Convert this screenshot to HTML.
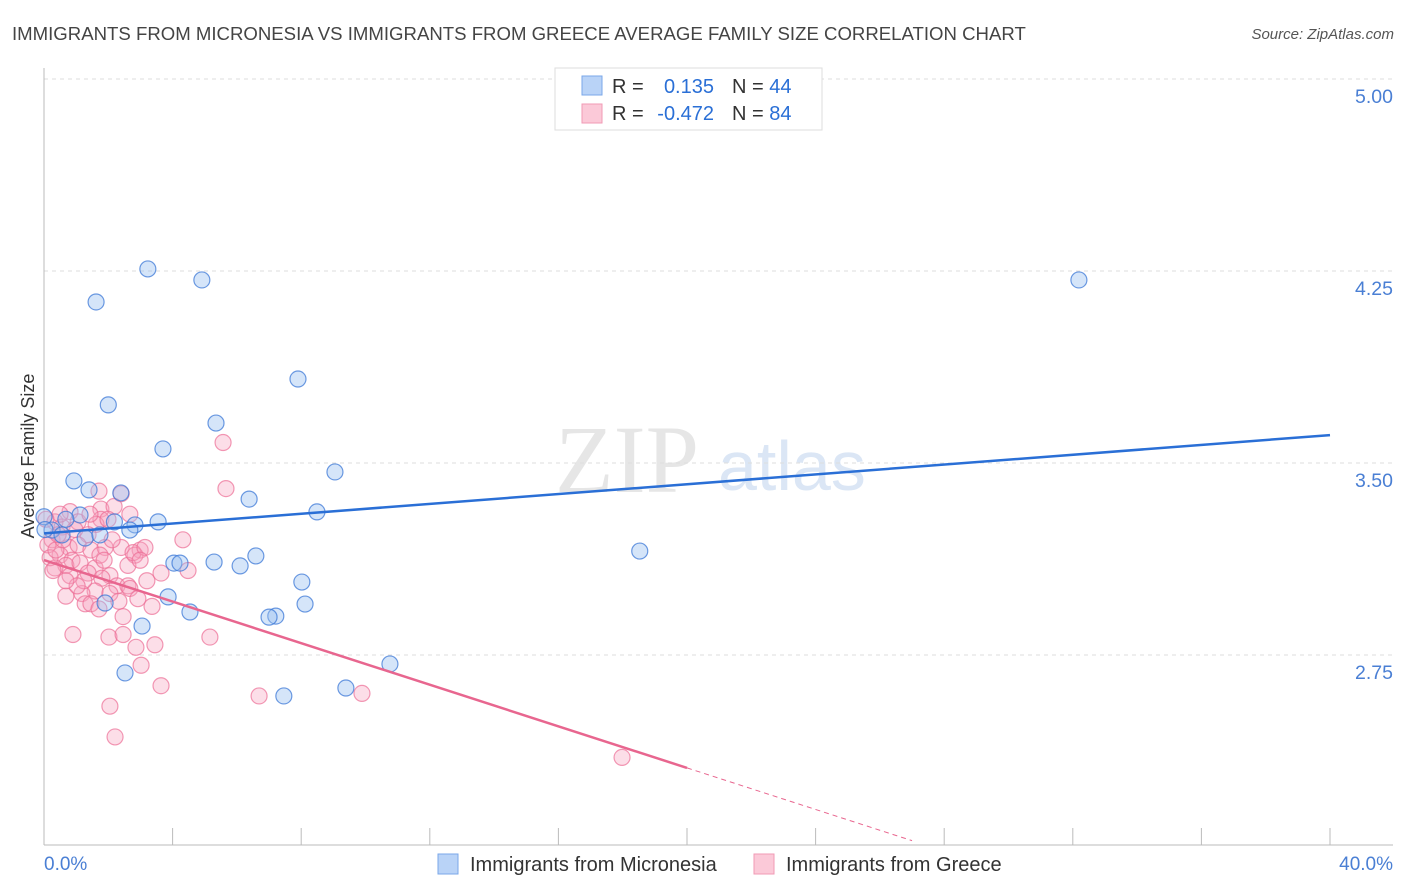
<!DOCTYPE html>
<html><head><meta charset="utf-8"><style>
body{margin:0;background:#fff;font-family:"Liberation Sans",sans-serif;}
svg{display:block}
</style></head><body>
<svg id="chart" width="1406" height="892">
<text x="12" y="40" font-size="18.6" fill="#444">IMMIGRANTS FROM MICRONESIA VS IMMIGRANTS FROM GREECE AVERAGE FAMILY SIZE CORRELATION CHART</text>
<text x="1394" y="39" font-size="15" fill="#555" font-style="italic" text-anchor="end">Source: ZipAtlas.com</text>
<text x="555" y="492" font-size="96" fill="#e6e6e6" font-family="Liberation Serif,serif">ZIP</text>
<text x="718" y="490" font-size="70" fill="#dbe6f5">atlas</text>
<g id="grid"></g><g id="axes"></g><g id="pts"></g><g id="lines"></g>
<text transform="translate(34,456) rotate(-90)" font-size="18" fill="#333" text-anchor="middle">Average Family Size</text>
<text x="44" y="870" font-size="19" fill="#4a7fd4">0.0%</text>
<text x="1393" y="870" font-size="19" fill="#4a7fd4" text-anchor="end">40.0%</text>
<g>
<rect x="555" y="68" width="267" height="62" fill="#fff" stroke="#ddd"/>
<rect x="582" y="76" width="20" height="19" fill="#b9d3f7" stroke="#7aa7e8"/>
<rect x="582" y="104" width="20" height="19" fill="#fbc9d8" stroke="#f09ab5"/>
<text x="612" y="93" font-size="20" fill="#333">R =</text>
<text x="714" y="93" font-size="20" fill="#2a6fd6" text-anchor="end">0.135</text>
<text x="732" y="93" font-size="20" fill="#333">N = <tspan fill="#2a6fd6">44</tspan></text>
<text x="612" y="120" font-size="20" fill="#333">R =</text>
<text x="714" y="120" font-size="20" fill="#2a6fd6" text-anchor="end">-0.472</text>
<text x="732" y="120" font-size="20" fill="#333">N = <tspan fill="#2a6fd6">84</tspan></text>
</g>
<g>
<rect x="438" y="854" width="20" height="20" fill="#b9d3f7" stroke="#7aa7e8"/>
<text x="470" y="871" font-size="20" fill="#333">Immigrants from Micronesia</text>
<rect x="754" y="854" width="20" height="20" fill="#fbc9d8" stroke="#f09ab5"/>
<text x="786" y="871" font-size="20" fill="#333">Immigrants from Greece</text>
</g>
</svg>
<script>
const yTicks=[5.00,4.25,3.50,2.75];
const xTicks=[0,4,8,12,16,20,24,28,32,36,40];
const blueX=[3.23,4.91,1.62,32.19,7.90,2.0,5.35,3.70,9.05,0.93,1.40,2.39,6.38,8.49,1.12,2.19,2.83,3.55,2.67,0.25,0.56,1.28,1.74,18.53,6.59,5.29,4.04,4.23,6.10,8.02,3.86,8.12,4.54,1.90,7.21,7.0,3.05,10.76,2.52,9.39,7.46,0,0.03,0.68];
const blueY=[4.258,4.215,4.129,4.215,3.828,3.727,3.656,3.555,3.465,3.43,3.395,3.383,3.359,3.309,3.297,3.27,3.258,3.27,3.238,3.238,3.219,3.207,3.219,3.156,3.137,3.113,3.109,3.109,3.098,3.035,2.977,2.949,2.918,2.953,2.902,2.898,2.863,2.715,2.68,2.621,2.59,3.29,3.24,3.28];
const pinkX=[5.57,5.66,1.71,2.40,0.81,1.77,2.18,1.06,1.77,2.67,1.62,0.34,0.56,1.37,0.25,0.78,1.06,1.46,1.90,2.40,2.99,4.32,2.83,0.50,0.87,0.68,1.12,1.59,0.34,1.37,2.05,2.61,2.77,3.14,3.20,3.64,4.48,1.80,2.27,2.61,2.67,1.59,0.68,1.18,2.05,3.36,1.28,2.46,1.46,0.90,2.02,2.46,2.86,3.45,5.16,3.02,3.64,2.05,2.21,6.69,9.89,17.98,0.12,0.19,0.37,0.59,0.96,1.74,1.87,2.12,0.28,1.24,2.33,1.71,2.92,1.99,1.43,0.50,0.81,1.03,2.99,0.68,0.44,0.06];
const pinkY=[3.58,3.40,3.39,3.38,3.31,3.32,3.33,3.27,3.28,3.30,3.26,3.27,3.25,3.22,3.20,3.17,3.18,3.16,3.17,3.17,3.16,3.20,3.14,3.14,3.12,3.10,3.11,3.09,3.09,3.07,3.06,3.10,3.15,3.17,3.04,3.07,3.08,3.05,3.02,3.02,3.01,3.00,2.98,2.99,2.99,2.94,2.95,2.90,2.95,2.83,2.82,2.83,2.78,2.79,2.82,2.71,2.63,2.55,2.43,2.59,2.60,2.35,3.18,3.13,3.16,3.20,3.24,3.14,3.12,3.20,3.08,3.04,2.96,2.93,2.97,3.28,3.30,3.30,3.06,3.02,3.12,3.04,3.22,3.28];
const blueTrend=[3.225,3.609];
const pinkTrend=[3.121,-0.0406];
const NS="http://www.w3.org/2000/svg";
const sx=v=>44+v/40*1286;
const sy=v=>79+(5-v)*256;
function mk(tag,attrs,parent){const e=document.createElementNS(NS,tag);for(const k in attrs)e.setAttribute(k,attrs[k]);document.getElementById(parent).appendChild(e);return e;}
yTicks.forEach(t=>{
 const l=mk('line',{x1:44,x2:1393,y1:sy(t),y2:sy(t),stroke:'#ddd','stroke-dasharray':'4,4'},'grid');
 
 
 const tx=mk('text',{x:1393,y:sy(t)+24,'font-size':19.5,fill:'#4a7fd4','text-anchor':'end'},'grid');
 tx.textContent=t.toFixed(2);
 
 
});
const ya=mk('line',{x1:44,x2:44,y1:68,y2:845,stroke:'#bbb'},'axes');


const xa=mk('line',{x1:44,x2:1393,y1:845,y2:845,stroke:'#bbb'},'axes');


xTicks.forEach(t=>{
 const l=mk('line',{x1:sx(t),x2:sx(t),y1:828,y2:845,stroke:'#bbb'},'axes');
 
 
});
function pts(xs,ys,fill,stroke,name){xs.forEach((x,i)=>{
 const c=mk('circle',{cx:sx(x),cy:sy(ys[i]),r:8,fill:fill,stroke:stroke,'stroke-width':1.2},'pts');
 
 
});}
pts(pinkX,pinkY,'rgba(246,160,188,0.35)','rgba(236,110,150,0.7)','greece-point');
pts(blueX,blueY,'rgba(150,190,240,0.4)','rgba(60,120,215,0.75)','micronesia-point');
const bl=mk('line',{x1:sx(0),y1:sy(blueTrend[0]),x2:sx(40),y2:sy(blueTrend[1]),stroke:'#2a6fd6','stroke-width':2.5},'lines');


const pv=x=>pinkTrend[0]+pinkTrend[1]*x;
const pl=mk('line',{x1:sx(0),y1:sy(pv(0)),x2:sx(20),y2:sy(pv(20)),stroke:'#e8668f','stroke-width':2.5},'lines');


const pd=mk('line',{x1:sx(20),y1:sy(pv(20)),x2:sx(27),y2:sy(pv(27)),stroke:'#e8668f','stroke-width':1,'stroke-dasharray':'5,4'},'lines');


</script>
</body></html>
